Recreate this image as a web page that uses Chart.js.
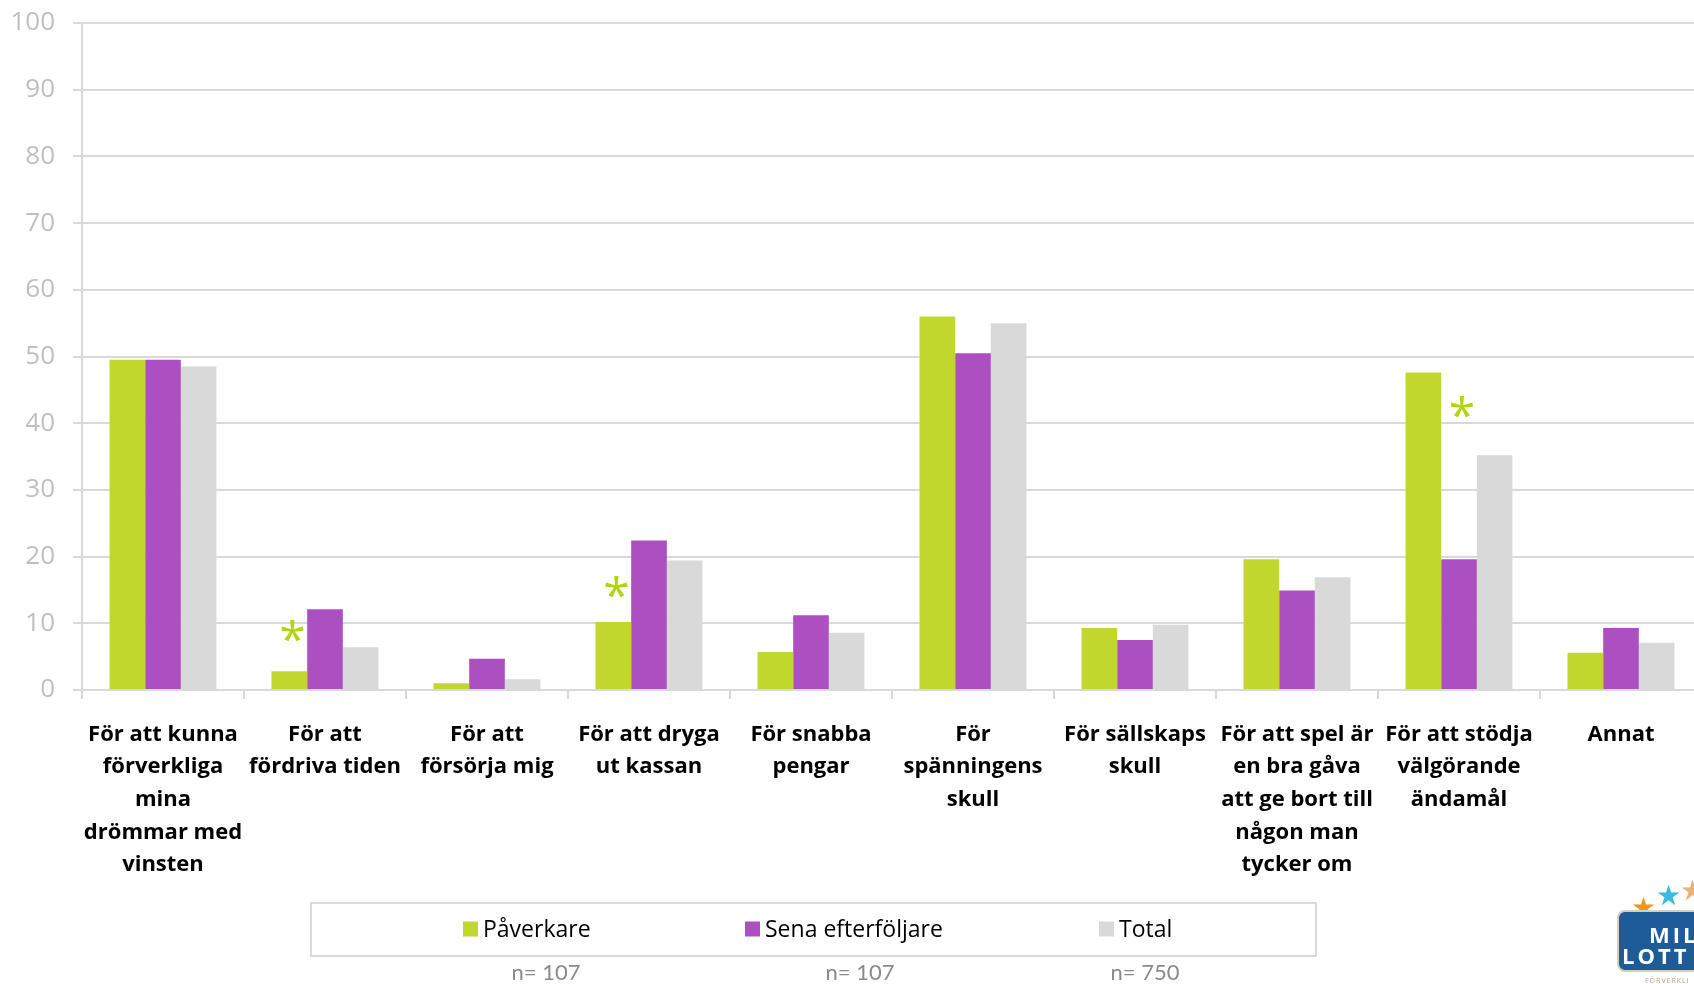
<!DOCTYPE html>
<html><head><meta charset="utf-8">
<script src="https://cdn.jsdelivr.net/npm/chart.js@4.4.1/dist/chart.umd.min.js"></script>
<style>
html,body{margin:0;padding:0;background:#fff;overflow:hidden;width:1694px;height:984px;}
#wrap{position:absolute;left:0;top:0;width:1702px;height:984px;}
#logo{position:absolute;left:1617px;top:880px;width:120px;height:104px;font-family:'Open Sans',sans-serif;}
#logo .star{position:absolute;font-size:28px;line-height:28px;}
#logo .box{position:absolute;left:0;top:30px;width:120px;height:62px;background:#1d5c99;border:2px solid #d8cfb8;border-radius:8px;box-sizing:border-box;}
#logo .t{position:absolute;color:#fff;font-weight:bold;font-size:22px;line-height:22px;letter-spacing:3px;}
#logo .small{position:absolute;left:28px;top:96px;font-size:7px;color:#b9a58a;letter-spacing:1px;}
</style></head><body>
<div id="wrap"><canvas id="c" width="1702" height="984" style="width:1702px;height:984px"></canvas></div>
<div id="logo">
  <span class="star" style="left:14px;top:12px;color:#f0961e">★</span>
  <span class="star" style="left:39px;top:0px;color:#3cb8e6">★</span>
  <span class="star" style="left:63px;top:-5px;color:#e9b37a">★</span>
  <div class="box">
    <span class="t" style="left:30px;top:11px">MIL</span>
    <span class="t" style="left:3px;top:32px">LOTT</span>
  </div>
  <div class="small">FÖRVERKLI</div>
</div>
<script>
const categories = [
  ["För att kunna","förverkliga","mina","drömmar med","vinsten"],
  ["För att","fördriva tiden"],
  ["För att","försörja mig"],
  ["För att dryga","ut kassan"],
  ["För snabba","pengar"],
  ["För","spänningens","skull"],
  ["För sällskaps","skull"],
  ["För att spel är","en bra gåva","att ge bort till","någon man","tycker om"],
  ["För att stödja","välgörande","ändamål"],
  ["Annat"]
];
const seriesNames = ["Påverkare", "Sena efterföljare", "Total"];
const paverkare        = [49.5, 2.8, 1.0, 10.2, 5.7, 56.0, 9.3, 19.6, 47.6, 5.6];
const senaEfterfoljare = [49.5, 12.1, 4.7, 22.4, 11.2, 50.5, 7.5, 14.9, 19.6, 9.3];
const total            = [48.5, 6.4, 1.6, 19.4, 8.6, 55.0, 9.8, 16.9, 35.2, 7.1];
const sampleSizes = ["n= 107", "n= 107", "n= 750"];
const yTicks = [0, 10, 20, 30, 40, 50, 60, 70, 80, 90, 100];
// significance markers (*)
const starCategory = [1, 3, 8];
const starSeries   = [0, 0, 1];
const starValue    = [8.8, 15.5, 42.4];

const colors = ["#c2d72e", "#ab4fc1", "#d9d9d9"];
const starColor = "#b3d40c";

const starPlugin = {
  id: 'stars',
  afterDatasetsDraw(chart) {
    const ctx = chart.ctx, y = chart.scales.y;
    ctx.save();
    ctx.fillStyle = starColor;
    ctx.font = "48px 'Open Sans'";
    ctx.textAlign = 'center';
    ctx.textBaseline = 'alphabetic';
    const m = ctx.measureText('*');
    const mid = (m.actualBoundingBoxAscent - m.actualBoundingBoxDescent) / 2;
    starCategory.forEach((c, i) => {
      const bar = chart.getDatasetMeta(starSeries[i]).data[c];
      ctx.fillText('*', bar.x + 3, y.getPixelForValue(starValue[i]) + mid);
    });
    ctx.restore();
  }
};

const legendLayout = { box: [311, 903, 1316, 956], itemX: [463, 745, 1099], itemY: 929, sq: 15, nX: [546, 860, 1145], nY: 973 };
const legendPlugin = {
  id: 'customLegend',
  afterDraw(chart) {
    const ctx = chart.ctx, L = legendLayout;
    ctx.save();
    ctx.strokeStyle = '#d9d9d9';
    ctx.lineWidth = 2;
    ctx.strokeRect(L.box[0], L.box[1], L.box[2] - L.box[0], L.box[3] - L.box[1]);
    ctx.font = "23px 'Open Sans'";
    ctx.textBaseline = 'middle';
    ctx.textAlign = 'left';
    chart.data.datasets.forEach((ds, i) => {
      ctx.fillStyle = ds.backgroundColor;
      ctx.fillRect(L.itemX[i], L.itemY - L.sq / 2, L.sq, L.sq);
      ctx.fillStyle = '#000';
      ctx.fillText(ds.label, L.itemX[i] + L.sq + 5, L.itemY + 1);
    });
    ctx.font = "22px Lato";
    ctx.fillStyle = '#8a8a8a';
    ctx.textAlign = 'center';
    sampleSizes.forEach((t, i) => ctx.fillText(t, L.nX[i], L.nY));
    ctx.restore();
  }
};

new Chart(document.getElementById('c'), {
  type: 'bar',
  data: {
    labels: categories,
    datasets: [
      { label: seriesNames[0], data: paverkare, backgroundColor: colors[0] },
      { label: seriesNames[1], data: senaEfterfoljare, backgroundColor: colors[1] },
      { label: seriesNames[2], data: total, backgroundColor: colors[2] }
    ]
  },
  options: {
    responsive: false,
    animation: false,
    layout: { padding: { top: 23, left: 0, right: 0, bottom: 0 } },
    datasets: { bar: { categoryPercentage: 0.66, barPercentage: 1.0 } },
    plugins: { legend: { display: false }, tooltip: { enabled: false } },
    scales: {
      x: {
        grid: { display: true, drawOnChartArea: false, drawTicks: true, tickLength: 9, color: '#d9d9d9', lineWidth: 2, offset: true },
        border: { display: false },
        ticks: { color: '#000', font: { family: 'Open Sans', size: 22, weight: 'bold', lineHeight: 1.486 }, padding: 19, maxRotation: 0, autoSkip: false },
        afterFit(s) { s.height = 294; }
      },
      y: {
        min: 0, max: 100,
        afterBuildTicks(s) { s.ticks = yTicks.map(v => ({ value: v })); },
        ticks: { color: '#bfbfbf', font: { family: 'Open Sans', size: 26, lineHeight: 0.2 }, padding: 18 },
        grid: { color: '#d9d9d9', lineWidth: 2, tickLength: 9 },
        border: { display: true, color: '#d9d9d9', width: 2 },
        afterFit(s) { s.width = 82; }
      }
    }
  },
  plugins: [starPlugin, legendPlugin]
});
</script>
</body></html>
